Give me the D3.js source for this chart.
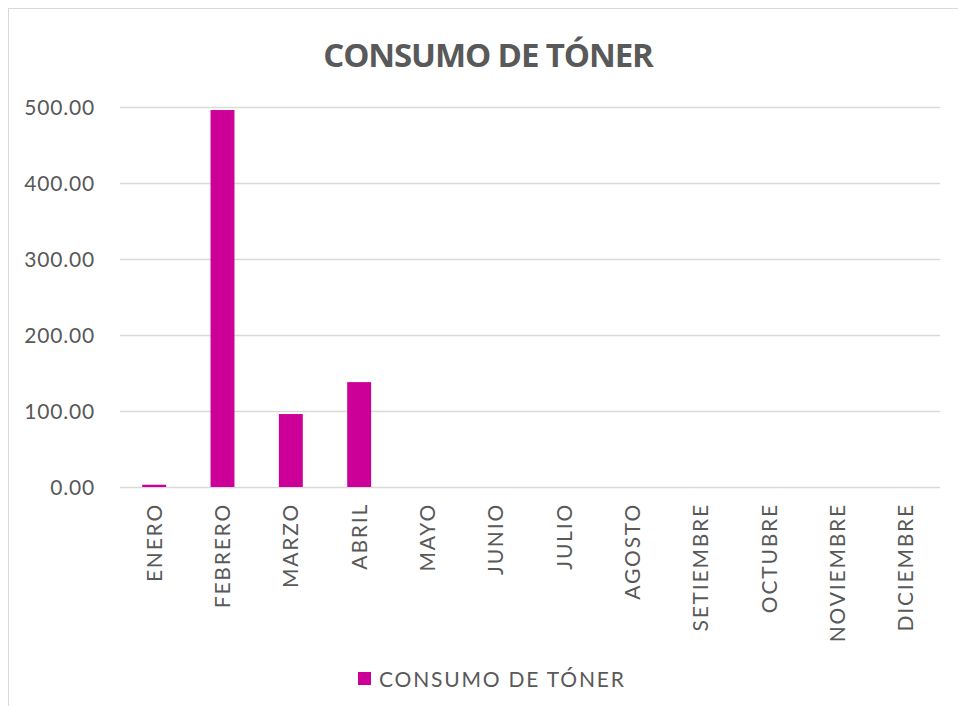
<!DOCTYPE html>
<html>
<head>
<meta charset="utf-8">
<script src="https://cdn.jsdelivr.net/npm/d3@7"></script>
<style>
  body { margin: 0; background: #fff; }
  svg { display: block; }
</style>
</head>
<body>
<svg id="chart" width="958" height="706"></svg>
<script>
(function() {
const title = 'CONSUMO DE TÓNER';
const seriesName = 'CONSUMO DE TÓNER';
const months = ['ENERO', 'FEBRERO', 'MARZO', 'ABRIL', 'MAYO', 'JUNIO', 'JULIO', 'AGOSTO',
  'SETIEMBRE', 'OCTUBRE', 'NOVIEMBRE', 'DICIEMBRE'];
const consumo = [3, 496, 96, 138, 0, 0, 0, 0, 0, 0, 0, 0];
const yTicks = [0, 100, 200, 300, 400, 500];

const svg = d3.select('svg#chart');
const margin = { top: 107, right: 18, bottom: 219, left: 120 };
const width = +svg.attr('width') - margin.left - margin.right;
const height = +svg.attr('height') - margin.top - margin.bottom;
const textColor = '#595959';
const barColor = '#cc0099';
const font = 'Lato, "Open Sans", sans-serif';

// chart frame
svg.append('rect')
  .attr('x', 8.5).attr('y', 8.5)
  .attr('width', 960).attr('height', 720)
  .attr('fill', 'white')
  .attr('stroke', '#d9d9d9');

svg.append('text')
  .attr('x', 488).attr('y', 67)
  .attr('text-anchor', 'middle')
  .attr('font-family', '"Open Sans", sans-serif')
  .attr('font-weight', 'bold')
  .attr('font-size', 33)
  .attr('letter-spacing', -1.1)
  .attr('fill', textColor)
  .text(title);

const g = svg.append('g').attr('transform', `translate(${margin.left},${margin.top})`);

const xScale = d3.scaleBand().domain(months).range([0, width]).paddingInner(0.65).paddingOuter(0.325);
const yScale = d3.scaleLinear().domain([0, 500]).range([height, 0]);

// gridlines
g.append('g')
  .selectAll('line')
  .data(yTicks)
  .join('line')
  .attr('x1', 0).attr('x2', width)
  .attr('y1', d => Math.round(yScale(d)) + 0.5).attr('y2', d => Math.round(yScale(d)) + 0.5)
  .attr('stroke', '#d9d9d9')
  .attr('stroke-width', 1.5);

// y axis labels
const yAxis = g.append('g')
  .attr('transform', 'translate(-22,0)')
  .call(d3.axisLeft(yScale).tickValues(yTicks).tickFormat(d3.format('.2f')).tickSize(0));
yAxis.select('.domain').remove();
yAxis.selectAll('text')
  .attr('font-family', font)
  .attr('font-size', 21)
  .attr('letter-spacing', 0.8)
  .attr('fill', textColor)
  .attr('dy', '0.36em');

// bars
g.append('g')
  .selectAll('rect')
  .data(consumo)
  .join('rect')
  .attr('x', (d, i) => xScale(months[i]))
  .attr('y', d => yScale(d))
  .attr('width', xScale.bandwidth())
  .attr('height', d => height - yScale(d))
  .attr('fill', barColor);

// x axis labels
const xAxis = g.append('g')
  .attr('transform', `translate(0,${height})`)
  .call(d3.axisBottom(xScale).tickSize(0));
xAxis.select('.domain').remove();
xAxis.selectAll('text')
  .attr('font-family', font)
  .attr('font-size', 21)
  .attr('letter-spacing', 1.8)
  .attr('fill', textColor)
  .attr('text-anchor', 'end')
  .attr('transform', 'rotate(-90)')
  .attr('x', -16)
  .attr('y', 0)
  .attr('dy', '0.36em');

// legend
const legend = svg.append('g').attr('transform', 'translate(358,672)');
legend.append('rect')
  .attr('width', 13).attr('height', 13)
  .attr('fill', barColor);
legend.append('text')
  .attr('x', 21).attr('y', 7)
  .attr('dy', '0.36em')
  .attr('font-family', font)
  .attr('font-size', 21)
  .attr('letter-spacing', 1.8)
  .attr('fill', textColor)
  .text(seriesName);
})();
</script>
</body>
</html>
